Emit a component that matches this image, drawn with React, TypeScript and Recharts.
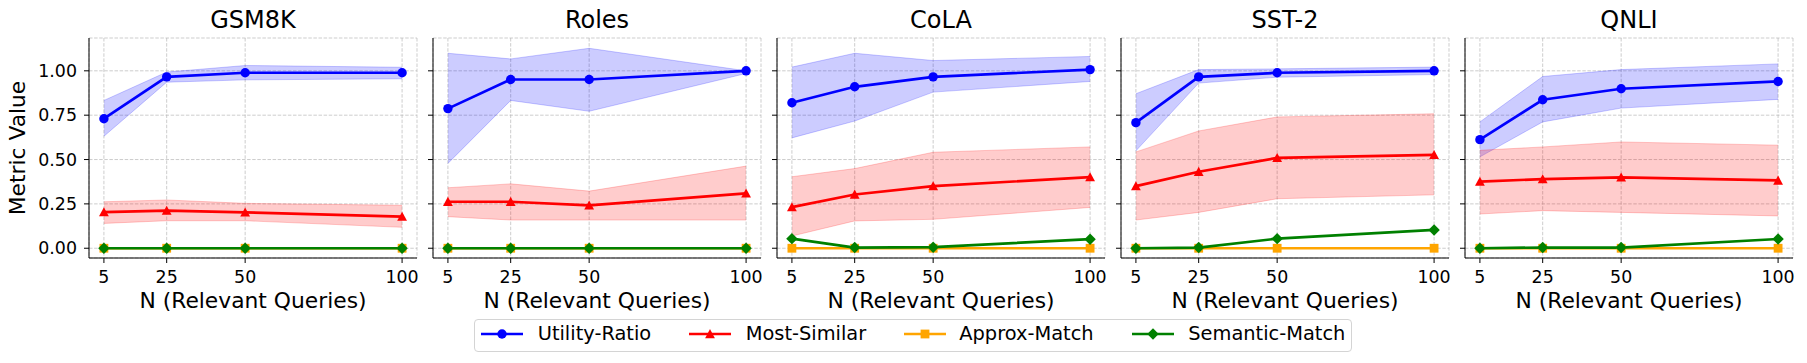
import React from "react";
import { ComposedChart, Area, Line, XAxis, YAxis, CartesianGrid, Label } from "recharts";

// x positions (number of relevant queries)
const nValues = [5, 25, 50, 100];
const datasetNames = ["GSM8K", "Roles", "CoLA", "SST-2", "QNLI"];
const seriesNames = ["Utility-Ratio", "Most-Similar", "Approx-Match", "Semantic-Match"];
const yTicks = [0, 0.25, 0.5, 0.75, 1.0];

// one row per dataset, one value per N
const utilityMean = [
    [0.73, 0.966, 0.989, 0.989],
    [0.787, 0.951, 0.951, 1.0],
    [0.82, 0.91, 0.966, 1.007],
    [0.708, 0.966, 0.989, 1.0],
    [0.612, 0.837, 0.899, 0.94],
];
const utilityLow = [
    [0.631, 0.936, 0.949, 0.955],
    [0.478, 0.833, 0.772, 0.985],
    [0.622, 0.717, 0.88, 0.94],
    [0.549, 0.931, 0.964, 0.979],
    [0.515, 0.712, 0.79, 0.839],
];
const utilityHigh = [
    [0.833, 0.993, 1.03, 1.02],
    [1.099, 1.067, 1.127, 1.0],
    [1.021, 1.099, 1.058, 1.081],
    [0.871, 1.007, 1.011, 1.021],
    [0.712, 0.968, 1.007, 1.039],
];
const similarMean = [
    [0.204, 0.212, 0.202, 0.178],
    [0.262, 0.262, 0.242, 0.309],
    [0.232, 0.303, 0.35, 0.401],
    [0.35, 0.431, 0.509, 0.526],
    [0.375, 0.39, 0.399, 0.382],
];
const similarLow = [
    [0.14, 0.155, 0.155, 0.118],
    [0.178, 0.159, 0.159, 0.159],
    [0.069, 0.154, 0.163, 0.23],
    [0.159, 0.202, 0.279, 0.301],
    [0.193, 0.212, 0.202, 0.182],
];
const similarHigh = [
    [0.262, 0.272, 0.253, 0.242],
    [0.341, 0.363, 0.322, 0.463],
    [0.403, 0.449, 0.541, 0.571],
    [0.543, 0.661, 0.74, 0.758],
    [0.552, 0.571, 0.599, 0.581],
];
const approxMean = [
    [0, 0, 0, 0],
    [0, 0, 0, 0],
    [0, 0, 0, 0],
    [0, 0, 0, 0],
    [0, 0, 0, 0],
];
const semanticMean = [
    [0, 0, 0, 0],
    [0, 0, 0, 0],
    [0.054, 0.004, 0.006, 0.051],
    [0, 0.004, 0.054, 0.103],
    [0, 0.004, 0.004, 0.052],
];

const BLUE = "#0000ff";
const RED = "#ff0000";
const ORANGE = "#ffa500";
const GREEN = "#008000";
const seriesColors = [BLUE, RED, ORANGE, GREEN];
const seriesShapes = ["circle", "triangle", "square", "diamond"];

const FONT = "'DejaVu Sans', sans-serif";
const X_DOMAIN = [0.25, 104.75];
const Y_DOMAIN = [-0.055, 1.185];
const PLOT_W = 328;
const PLOT_H = 220;
const PLOT_TOP = 38;
const X_AXIS_H = 52;
const BOTTOM_PAD = 14;
const RIGHT_PAD = 22;
const plotLefts = [89, 433, 777, 1121, 1465];

const TICK_FONT = 17.4;
const LABEL_FONT = 21.8;
const TITLE_FONT = 24;
const LEGEND_FONT = 19.4;

// legend layout (page px)
const legendIconX = [481, 689, 904, 1132];
const legendTextX = [537.7, 745.7, 959.3, 1188.3];

function buildRows(i: number) {
    return nValues.map((n, j) => ({
        n,
        utility: utilityMean[i][j],
        utilityBand: [utilityLow[i][j], utilityHigh[i][j]],
        similar: similarMean[i][j],
        similarBand: [similarLow[i][j], similarHigh[i][j]],
        approx: approxMean[i][j],
        semantic: semanticMean[i][j],
    }));
}

function markerShape(shape: string, color: string, cx: number, cy: number, key?: any) {
    if (shape === "circle") {
        return <circle key={key} cx={cx} cy={cy} r={4.7} fill={color} />;
    }
    if (shape === "triangle") {
        const s = 4.9;
        return <polygon key={key} points={`${cx},${cy - s} ${cx - s},${cy + s * 0.85} ${cx + s},${cy + s * 0.85}`} fill={color} />;
    }
    if (shape === "square") {
        return <rect key={key} x={cx - 4.4} y={cy - 4.4} width={8.8} height={8.8} fill={color} />;
    }
    const d = 5.7;
    return <polygon key={key} points={`${cx},${cy - d} ${cx + d},${cy} ${cx},${cy + d} ${cx - d},${cy}`} fill={color} />;
}

function makeDot(shape: string, color: string) {
    return (props: any) => {
        const { cx, cy, key } = props;
        if (cx == null || cy == null) return <g key={key} />;
        return markerShape(shape, color, cx, cy, key);
    };
}

const EmptyTick = () => <g />;

function Panel({ index }: { index: number }) {
    const first = index === 0;
    const yW = first ? 89 : 40;
    const rows = buildRows(index);

    return (
        <>
            <div
                style={{
                    position: "absolute",
                    left: plotLefts[index],
                    width: PLOT_W,
                    top: 7,
                    lineHeight: "26px",
                    fontSize: TITLE_FONT,
                    textAlign: "center",
                    color: "#000",
                }}
            >
                {datasetNames[index]}
            </div>
            <div style={{ position: "absolute", left: plotLefts[index] - yW, top: 0 }}>
                <ComposedChart
                    width={yW + PLOT_W + RIGHT_PAD}
                    height={PLOT_TOP + PLOT_H + X_AXIS_H + BOTTOM_PAD}
                    data={rows}
                    margin={{ top: PLOT_TOP, right: RIGHT_PAD, bottom: BOTTOM_PAD, left: 0 }}
                >
                    <CartesianGrid stroke="#b0b0b0" strokeOpacity={0.7} strokeDasharray="3.5 1.6" strokeWidth={0.9} />
                    <XAxis
                        dataKey="n"
                        type="number"
                        domain={X_DOMAIN}
                        ticks={nValues}
                        interval={0}
                        allowDataOverflow
                        height={X_AXIS_H}
                        tickSize={5}
                        tickMargin={7.5}
                        stroke="#000"
                        tick={{ fill: "#000", fontSize: TICK_FONT }}
                    >
                        <Label value="N (Relevant Queries)" position="insideBottom" offset={2} fill="#000" fontSize={LABEL_FONT} />
                    </XAxis>
                    <XAxis
                        xAxisId="top"
                        orientation="top"
                        dataKey="n"
                        type="number"
                        domain={X_DOMAIN}
                        allowDataOverflow
                        height={0}
                        tick={false}
                        tickLine={false}
                        stroke="#000"
                    />
                    <YAxis
                        type="number"
                        domain={Y_DOMAIN}
                        ticks={yTicks}
                        interval={0}
                        allowDataOverflow
                        width={yW}
                        tickSize={5}
                        tickMargin={7}
                        stroke="#000"
                        tick={first ? { fill: "#000", fontSize: TICK_FONT } : EmptyTick}
                        tickFormatter={(v: number) => v.toFixed(2)}
                    >
                        {first && (
                            <Label
                                value="Metric Value"
                                angle={-90}
                                position="insideLeft"
                                offset={17}
                                fill="#000"
                                fontSize={LABEL_FONT}
                                style={{ textAnchor: "middle" }}
                            />
                        )}
                    </YAxis>
                    <YAxis
                        yAxisId="right"
                        orientation="right"
                        type="number"
                        domain={Y_DOMAIN}
                        width={0}
                        tick={false}
                        tickLine={false}
                        stroke="#000"
                    />
                    <Area
                        dataKey="utilityBand"
                        type="linear"
                        fill={BLUE}
                        fillOpacity={0.2}
                        stroke={BLUE}
                        strokeOpacity={0.2}
                        strokeWidth={1}
                        dot={false}
                        activeDot={false}
                        isAnimationActive={false}
                    />
                    <Area
                        dataKey="similarBand"
                        type="linear"
                        fill={RED}
                        fillOpacity={0.2}
                        stroke={RED}
                        strokeOpacity={0.2}
                        strokeWidth={1}
                        dot={false}
                        activeDot={false}
                        isAnimationActive={false}
                    />
                    <Line dataKey="utility" type="linear" stroke={BLUE} strokeWidth={2.7} dot={makeDot("circle", BLUE)} activeDot={false} isAnimationActive={false} />
                    <Line dataKey="similar" type="linear" stroke={RED} strokeWidth={2.7} dot={makeDot("triangle", RED)} activeDot={false} isAnimationActive={false} />
                    <Line dataKey="approx" type="linear" stroke={ORANGE} strokeWidth={2.7} dot={makeDot("square", ORANGE)} activeDot={false} isAnimationActive={false} />
                    <Line dataKey="semantic" type="linear" stroke={GREEN} strokeWidth={2.7} dot={makeDot("diamond", GREEN)} activeDot={false} isAnimationActive={false} />
                </ComposedChart>
            </div>
        </>
    );
}

function LegendBox() {
    return (
        <>
            <div
                style={{
                    position: "absolute",
                    left: 474,
                    top: 319,
                    width: 878,
                    height: 33,
                    border: "1px solid #d4d4d4",
                    borderRadius: 4,
                    boxSizing: "border-box",
                    background: "#fff",
                }}
            />
            {seriesNames.map((name, i) => (
                <React.Fragment key={name}>
                    <svg
                        width={42}
                        height={14}
                        style={{ position: "absolute", left: legendIconX[i], top: 334 - 7 }}
                    >
                        <line x1={0} y1={7} x2={42} y2={7} stroke={seriesColors[i]} strokeWidth={2.7} />
                        {markerShape(seriesShapes[i], seriesColors[i], 21, 7)}
                    </svg>
                    <div
                        style={{
                            position: "absolute",
                            left: legendTextX[i],
                            top: 334 - 12,
                            height: 24,
                            lineHeight: "24px",
                            fontSize: LEGEND_FONT,
                            color: "#000",
                            whiteSpace: "nowrap",
                        }}
                    >
                        {name}
                    </div>
                </React.Fragment>
            ))}
        </>
    );
}

export default function App() {
    return (
        <div
            style={{
                position: "absolute",
                left: 0,
                top: 0,
                width: 1807,
                height: 363,
                background: "#fff",
                fontFamily: FONT,
                overflow: "hidden",
            }}
        >
            {datasetNames.map((name, i) => (
                <Panel key={name} index={i} />
            ))}
            <LegendBox />
        </div>
    );
}
